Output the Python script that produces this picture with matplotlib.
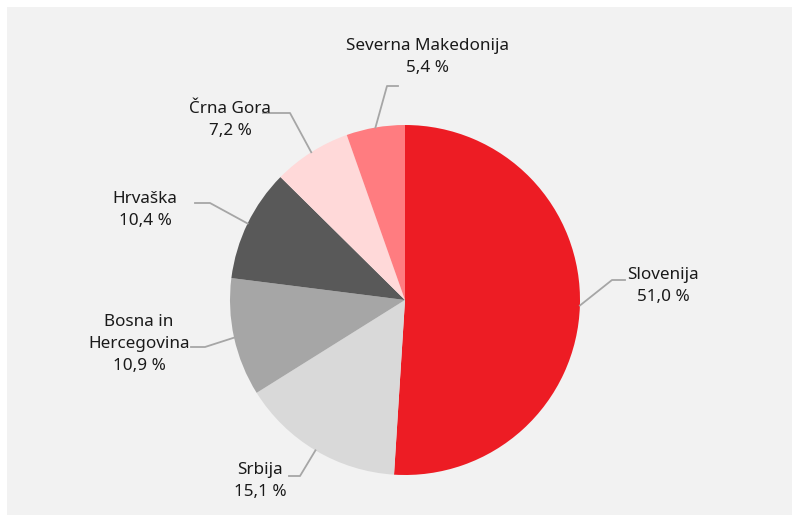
import numpy as np
import matplotlib
matplotlib.use("Agg")
import matplotlib.pyplot as plt
from matplotlib.patches import Rectangle

# podatki
drzave = ["Slovenija", "Srbija", "Bosna in\nHercegovina", "Hrvaška", "Črna Gora", "Severna Makedonija"]
deleži = [51.0, 15.1, 10.9, 10.4, 7.2, 5.4]
barve = ["#ED1C24", "#D9D9D9", "#A6A6A6", "#595959", "#FFD9D9", "#FF7C80"]

# postavitev oznak (x, y besedila) in pregib črte (x, y, konec x)
oznake = [(663, 231), (260, 36), (139, 173), (145, 307), (230, 397), (427, 460)]
pregibi = [(612, 237, 625), (300, 41, 289), (205, 170, 191), (210, 314, 195), (290, 404, 263), (387, 431, 398)]

plt.rcParams['font.family'] = ['Noto Sans', 'DejaVu Sans']

fig = plt.figure(figsize=(7.92, 5.17), dpi=100)
fig.patches.append(Rectangle((7 / 792, 2 / 517), 1 - 7 / 792, 508 / 517,
                             transform=fig.transFigure, facecolor="#F2F2F2",
                             edgecolor="none", zorder=-1))

ax = fig.add_axes([0, 0, 1, 1])
ax.set_zorder(1)
ax.patch.set_alpha(0)

cx, cy, r = 405, 217, 175
wedges, _ = ax.pie(deleži, colors=barve, startangle=90, counterclock=False,
                   center=(cx, cy), radius=r, frame=True,
                   wedgeprops=dict(linewidth=0))
ax.set_xlim(0, 792)
ax.set_ylim(0, 517)
ax.set_aspect("equal")
ax.axis("off")

for w, ime, d, (tx, ty), (px, py, ex) in zip(wedges, drzave, deleži, oznake, pregibi):
    kot = np.deg2rad((w.theta1 + w.theta2) / 2)
    wx, wy = cx + r * np.cos(kot), cy + r * np.sin(kot)
    ax.plot([wx, px, ex], [wy, py, py], color="#A6A6A6", lw=1.3, zorder=3)
    besedilo = ime + "\n" + f"{d:.1f}".replace(".", ",") + " %"
    ax.text(tx, ty, besedilo, ha="center", va="center", fontsize=12.3,
            color="#1A1A1A", linespacing=1.5)

fig.savefig("out.png", dpi=100)
